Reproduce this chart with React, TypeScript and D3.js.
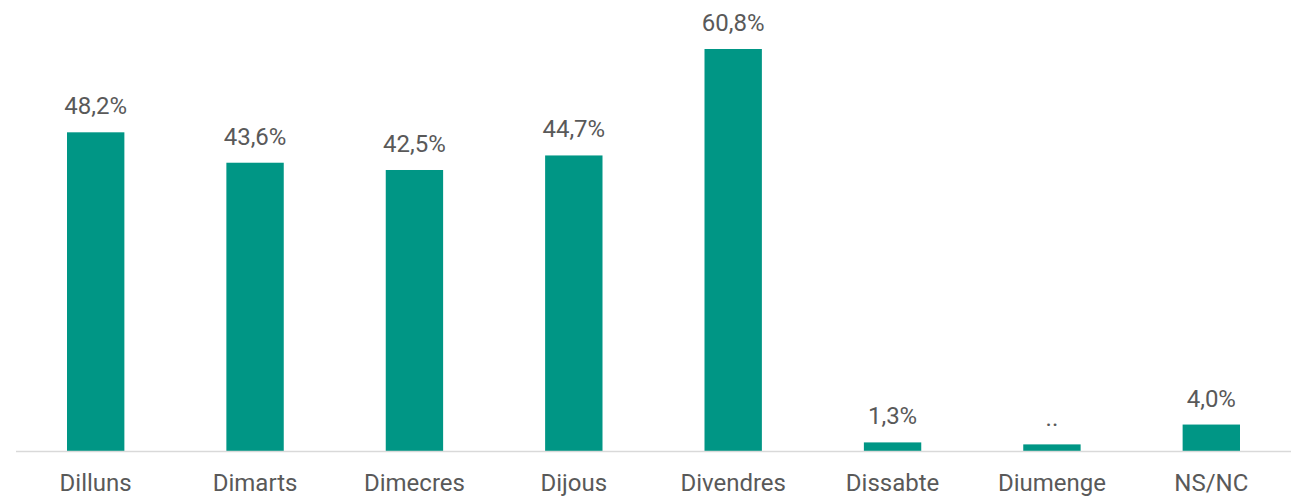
import React from "react";
import * as d3 from "d3";

const categories = ["Dilluns", "Dimarts", "Dimecres", "Dijous", "Divendres", "Dissabte", "Diumenge", "NS/NC"];
const values = [48.2, 43.6, 42.5, 44.7, 60.8, 1.3, 1.0, 4.0];
const valueLabels = ["48,2%", "43,6%", "42,5%", "44,7%", "60,8%", "1,3%", "..", "4,0%"];

const W = 1296;
const H = 498;
const left = 16;
const right = 1291;
const baseY = 451;

export default function App() {
  const x = d3.scaleBand<string>().domain(categories).range([left, right]).paddingInner(0.64).paddingOuter(0.32);
  const y = d3.scaleLinear().domain([0, 60.8]).range([baseY, 49]);
  const font = "Roboto, 'Noto Sans', sans-serif";
  return (
    <svg width={W} height={H} style={{ position: "absolute", left: 0, top: 0 }}>
      <rect width={W} height={H} fill="#ffffff" />
      {categories.map((c, i) => (
        <g key={c}>
          <rect x={x(c)} y={y(values[i])} width={x.bandwidth()} height={baseY - y(values[i])} fill="#009685" />
          <text x={(x(c) ?? 0) + x.bandwidth() / 2} y={y(values[i]) - 18} textAnchor="middle" fontFamily={font} fontSize={24} fill="#595959">
            {valueLabels[i]}
          </text>
          <text x={(x(c) ?? 0) + x.bandwidth() / 2} y={491} textAnchor="middle" fontFamily={font} fontSize={24} fill="#595959">
            {c}
          </text>
        </g>
      ))}
      <line x1={left} x2={right} y1={baseY + 0.5} y2={baseY + 0.5} stroke="#d9d9d9" strokeWidth={1.5} />
    </svg>
  );
}
